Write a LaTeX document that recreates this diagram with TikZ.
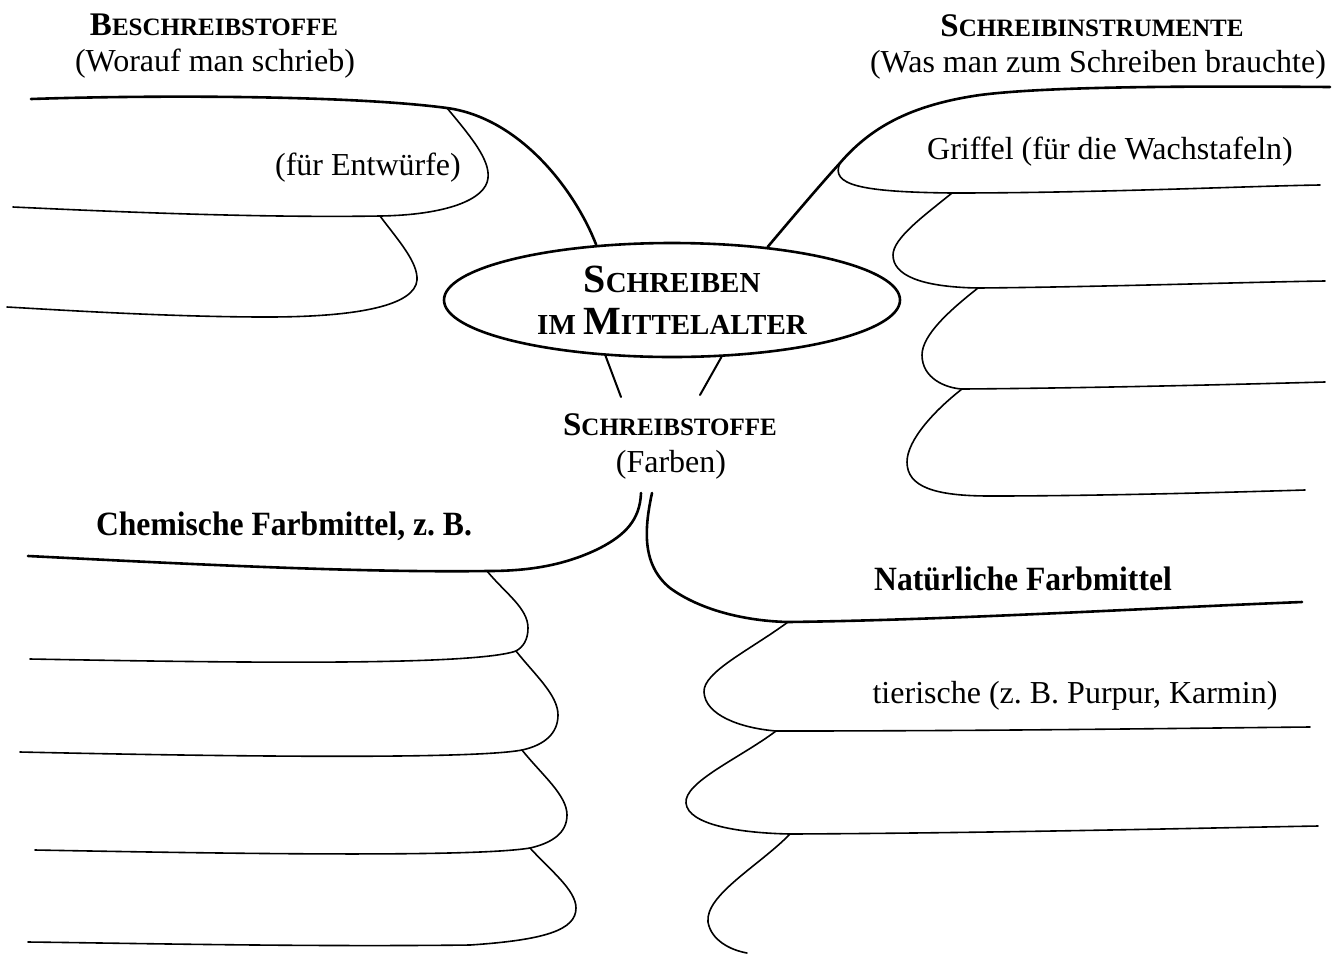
\documentclass[tikz,border=0pt]{standalone}
\usepackage{fontspec}
\setmainfont{Liberation Serif}
\usepackage{graphicx}
\usetikzlibrary{shapes.geometric}
\frenchspacing
\newcommand{\kap}[2]{#1{\fontsize{12.5}{15}\selectfont #2}}
\newcommand{\grosskap}[2]{{\fontsize{20}{21}\selectfont #1}{\fontsize{14.5}{21}\selectfont #2}}

\begin{document}
\begin{tikzpicture}[x=0.5pt, y=-0.5pt, line cap=round,
		every node/.append style={inner sep=0pt, font=\fontsize{16}{19}\selectfont},
		kopf/.style={anchor=base, font=\fontsize{16.5}{20}\selectfont\bfseries},
		unterkopf/.style={anchor=base},
		fett/.style={anchor=base, font=\fontsize{17}{20}\selectfont\bfseries},
		ast/.style={line width=1.3pt},
		zweig/.style={line width=0.8pt}]
	\useasboundingbox (0,0) rectangle (1343,954);

	\node[draw, ellipse, line width=1.3pt, minimum width=228pt, minimum height=57pt, align=center,
		font=\fontsize{20}{21}\selectfont\bfseries] (mitte) at (672,300)
		{\grosskap{S}{CHREIBEN}\\\grosskap{}{IM }\grosskap{M}{ITTELALTER}};

	\node[kopf] (beschr) at (214,35) {\kap{B}{ESCHREIBSTOFFE}};
	\node[unterkopf] (beschrsub) at (215,71) {(Worauf man schrieb)};
	\node[kopf] (instr) at (1092,36) {\kap{S}{CHREIBINSTRUMENTE}};
	\node[unterkopf] (instrsub) at (1098,72) {(Was man zum Schreiben brauchte)};
	\node[unterkopf] (entw) at (368,175) {(für Entwürfe)};
	\node[unterkopf] (griffel) at (1110,159) {Griffel (für die Wachstafeln)};
	\node[kopf] (stoffe) at (670,435) {\kap{S}{CHREIBSTOFFE}};
	\node[unterkopf] (farben) at (671,472) {(Farben)};
	\node[fett] (chem) at (284,535) {\scalebox{0.93}[1]{Chemische Farbmittel, z. B.}};
	\node[fett] (natur) at (1023,590) {\scalebox{0.93}[1]{Natürliche Farbmittel}};
	\node[unterkopf] (tier) at (1075,703) {tierische (z. B. Purpur, Karmin)};

	% Verzweigungspunkte
	\coordinate (bsA) at (447,108);
	\coordinate (bsB) at (380,216);
	\coordinate (siA) at (840,163);
	\coordinate (siB) at (952,193);
	\coordinate (siC) at (978,288);
	\coordinate (siD) at (962,389);
	\coordinate (stL) at (621,397);
	\coordinate (stR) at (700,395);
	\coordinate (cfS) at (641,493);
	\coordinate (cfA) at (487,571);
	\coordinate (cfB) at (516,651);
	\coordinate (cfC) at (522,750);
	\coordinate (cfD) at (530,848);
	\coordinate (nfS) at (652,493);
	\coordinate (nfA) at (788,622);
	\coordinate (nfB) at (776,731);
	\coordinate (nfC) at (790,834);

	% Beschreibstoffe
	\draw[ast] (31,99) .. controls (150,95) and (350,95) .. (bsA)
		.. controls (520,118) and (575,190) .. (mitte.144);
	\draw[zweig] (bsA) .. controls (472,138) and (490,160) .. (488,178)
		.. controls (486,200) and (445,215) .. (bsB)
		.. controls (250,218) and (100,211) .. (13,207);
	\draw[zweig] (bsB) .. controls (398,240) and (418,262) .. (417,280)
		.. controls (415,305) and (360,317) .. (267,317)
		.. controls (170,317) and (60,310) .. (7,307);

	% Schreibinstrumente
	\draw[ast] (mitte.29) .. controls (792,218) and (820,185) .. (siA)
		.. controls (870,128) and (910,105) .. (980,95)
		.. controls (1050,86) and (1200,86) .. (1330,87);
	\draw[zweig] (siA) .. controls (830,185) and (860,192) .. (siB)
		.. controls (1100,193) and (1250,186) .. (1320,185);
	\draw[zweig] (siB) .. controls (925,215) and (893,238) .. (893,255)
		.. controls (893,275) and (920,287) .. (siC)
		.. controls (1100,287) and (1250,282) .. (1325,281);
	\draw[zweig] (siC) .. controls (950,310) and (922,335) .. (922,355)
		.. controls (922,378) and (945,388) .. (siD)
		.. controls (1100,388) and (1250,384) .. (1325,382);
	\draw[zweig] (siD) .. controls (935,410) and (907,440) .. (907,462)
		.. controls (907,487) and (935,496) .. (990,496)
		.. controls (1100,496) and (1240,492) .. (1305,490);

	% Schreibstoffe
	\draw[line width=1pt] (mitte.220) -- (stL);
	\draw[line width=1pt] (mitte.311) -- (stR);

	% Chemische Farbmittel
	\draw[ast] (cfS) .. controls (640,520) and (625,535) .. (600,548)
		.. controls (560,568) and (520,571) .. (cfA)
		.. controls (350,573) and (150,562) .. (28,556);
	\draw[zweig] (cfA) .. controls (505,593) and (528,608) .. (528,628)
		.. controls (528,640) and (523,647) .. (cfB)
		.. controls (470,667) and (200,662) .. (30,659);
	\draw[zweig] (cfB) .. controls (535,675) and (558,695) .. (558,715)
		.. controls (558,733) and (545,745) .. (cfC)
		.. controls (470,760) and (200,756) .. (20,752);
	\draw[zweig] (cfC) .. controls (542,775) and (567,795) .. (567,815)
		.. controls (567,833) and (552,843) .. (cfD)
		.. controls (470,858) and (200,853) .. (35,850);
	\draw[zweig] (cfD) .. controls (550,870) and (576,890) .. (576,908)
		.. controls (576,930) and (545,940) .. (470,945)
		.. controls (300,947) and (120,943) .. (28,942);

	% Natuerliche Farbmittel
	\draw[ast] (nfS) .. controls (644,530) and (642,565) .. (670,588)
		.. controls (700,610) and (745,621) .. (nfA)
		.. controls (950,620) and (1150,608) .. (1302,602);
	\draw[zweig] (nfA) .. controls (750,650) and (703,672) .. (704,692)
		.. controls (705,715) and (740,728) .. (nfB)
		.. controls (1000,731) and (1200,728) .. (1310,727);
	\draw[zweig] (nfB) .. controls (740,758) and (684,782) .. (686,803)
		.. controls (688,825) and (740,833) .. (nfC)
		.. controls (1000,833) and (1200,828) .. (1318,826);
	\draw[zweig] (nfC) .. controls (760,865) and (705,895) .. (708,922)
		.. controls (711,940) and (730,950) .. (747,953);
\end{tikzpicture}
\end{document}
